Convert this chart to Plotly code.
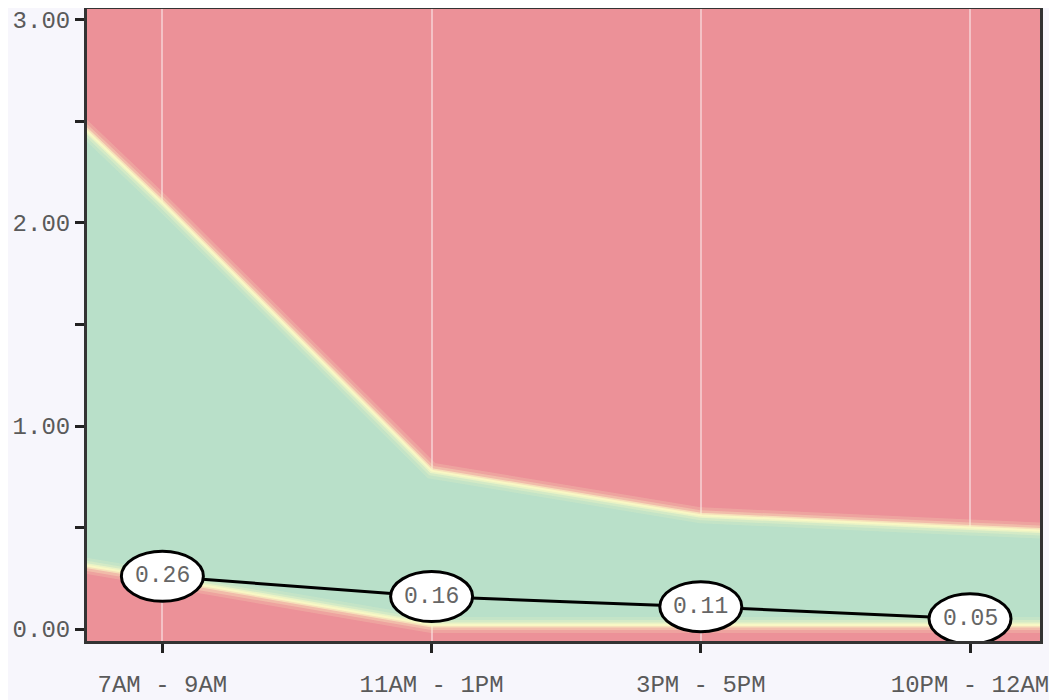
import plotly.graph_objects as go

# categories and series
periods = ["7AM - 9AM", "11AM - 1PM", "3PM - 5PM", "10PM - 12AM"]
actual = [0.26, 0.16, 0.11, 0.05]
upper_bound = [2.10, 0.78, 0.56, 0.50]
lower_bound = [0.25, 0.02, 0.02, 0.02]

y_ticks = [0.0, 0.5, 1.0, 1.5, 2.0, 2.5, 3.0]
y_tick_text = ["0.00", "", "1.00", "", "2.00", "", "3.00"]

RED = "#ec9198"
GREEN = "#b9e0c9"
PAGE = "#f7f6fc"

X_MIN, X_MAX = -0.28, 3.26


def extend(vals):
    # carry the band on past the first/last category to the plot edges
    x = list(range(len(vals)))
    left = vals[0] + (vals[0] - vals[1]) * (0 - X_MIN) * 1.3
    right = vals[-1] + (vals[-1] - vals[-2]) * (X_MAX - x[-1]) * 1.3
    return [X_MIN - 0.1] + x + [X_MAX + 0.1], [left] + list(vals) + [right]


bx, up = extend(upper_bound)
_, lo = extend(lower_bound)

fig = go.Figure()

fig.add_trace(go.Scatter(x=bx, y=lo, mode="lines", line=dict(width=0),
                         showlegend=False, hoverinfo="skip"))
fig.add_trace(go.Scatter(x=bx, y=up, mode="lines", fill="tonexty", fillcolor=GREEN,
                         line=dict(width=0), showlegend=False, hoverinfo="skip"))

# soft yellow edges of the band (stacked to fake a blur)
for vals in (up, lo):
    for w, a in ((16, 0.18), (10, 0.3), (5, 0.6), (2, 0.9)):
        fig.add_trace(go.Scatter(x=bx, y=vals, mode="lines",
                                 line=dict(color=f"rgba(250,248,196,{a})", width=w),
                                 showlegend=False, hoverinfo="skip"))

fig.add_trace(go.Scatter(
    x=list(range(len(periods))), y=actual, mode="lines",
    line=dict(color="black", width=3, shape="spline", smoothing=0.3),
    showlegend=False, hoverinfo="skip",
))

# elliptical value labels
for i, v in enumerate(actual):
    fig.add_shape(type="circle", xref="x", yref="y",
                  xsizemode="pixel", ysizemode="pixel",
                  xanchor=i, yanchor=v, x0=-41, x1=41, y0=-25, y1=25,
                  fillcolor="white", line=dict(color="black", width=3), layer="above")
    fig.add_annotation(x=i, y=v, text=f"{v:.2f}", showarrow=False,
                       font=dict(family="Liberation Mono", size=23, color="#666"))

# the page body adds an 8px offset, so the figure is sized to fit inside it
fig.update_layout(
    width=1049, height=692,
    margin=dict(l=79, r=17, t=1, b=59),
    paper_bgcolor=PAGE, plot_bgcolor=RED,
    font=dict(family="Liberation Mono", size=24, color="#5a5a5a"),
)

fig.update_xaxes(
    range=[X_MIN, X_MAX], automargin=False,
    tickvals=list(range(len(periods))), ticktext=periods,
    ticks="outside", ticklen=9, tickwidth=3, tickcolor="#222",
    ticklabelstandoff=10,
    showgrid=True, gridcolor="rgba(255,255,255,0.45)", gridwidth=2,
    showline=True, linecolor="#333", linewidth=3, mirror=True,
    zeroline=False, layer="above traces",
)
fig.update_yaxes(
    range=[-0.059, 3.054], automargin=False,
    tickvals=y_ticks, ticktext=y_tick_text,
    ticks="outside", ticklen=9, tickwidth=3, tickcolor="#222",
    showgrid=False, zeroline=False,
    showline=True, linecolor="#333", linewidth=3, mirror=True,
)

fig.write_html("out.html")
